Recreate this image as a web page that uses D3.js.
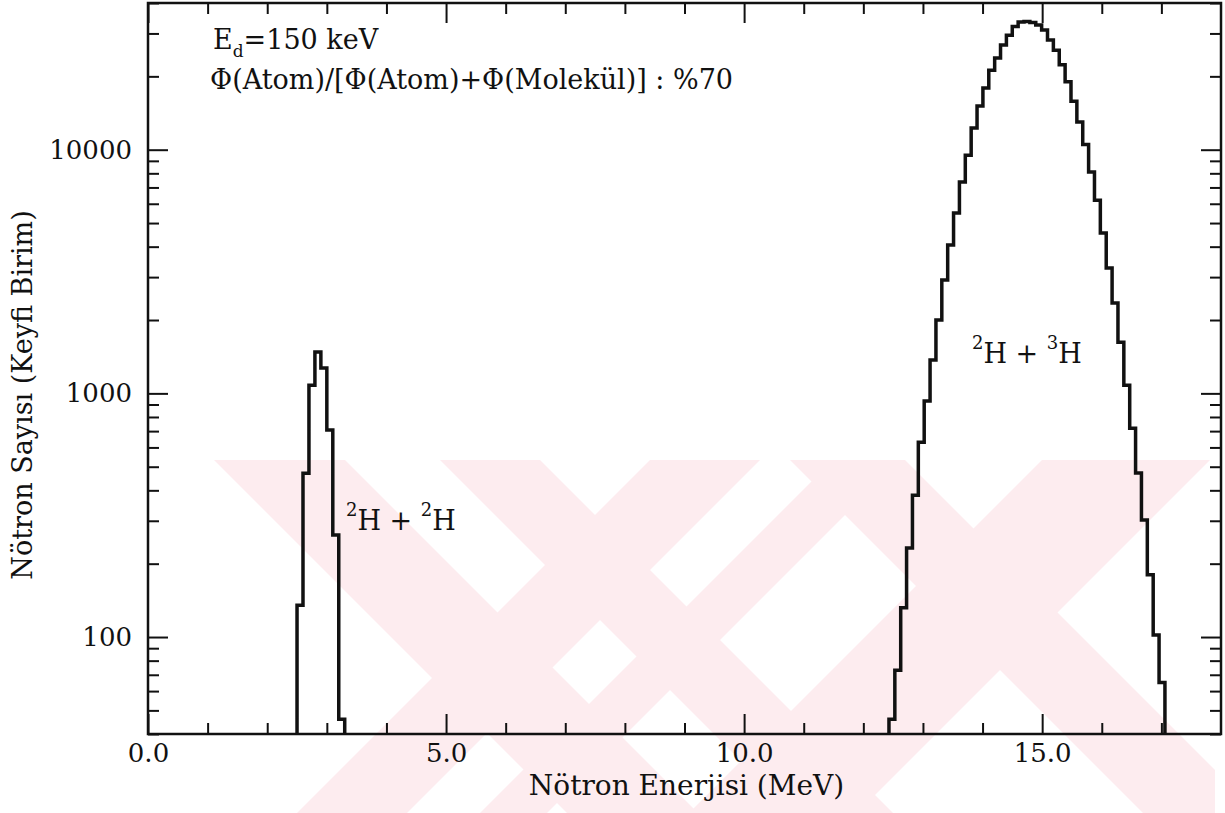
<!DOCTYPE html>
<html>
<head>
<meta charset="utf-8">
<script src="https://cdn.jsdelivr.net/npm/d3@7/dist/d3.min.js"></script>
<style>
	body { margin: 0; background: #fff; }
	svg text { font-family: "DejaVu Serif", serif; fill: #111; }
</style>
</head>
<body>
<div id="chart"></div>
<script>
// ---- data ----
// 2H+3H histogram: counts per bin, first bin edge and bin width in MeV
var dtStart = 12.43;
var dtWidth = 0.0985;
var dtCounts = [46, 73, 132, 232, 382, 630, 930, 1370, 2000, 2920,
	4060, 5500, 7370, 9500, 12270, 15100, 17900, 21200, 23800, 26900,
	29500, 32000, 33400, 33600, 33300, 32500, 31000, 28200, 25600, 22300,
	19000, 15800, 13000, 10500, 8100, 6200, 4550, 3270, 2350, 1620,
	1080, 720, 471, 302, 180, 102, 65];

// 2H+2H histogram
var ddStart = 2.5;
var ddWidth = 0.1;
var ddCounts = [135, 470, 1080, 1480, 1270, 707, 262, 46];

var xMajorTicks = [0, 5, 10, 15];
var xMinorTicks = [1, 2, 3, 4, 6, 7, 8, 9, 11, 12, 13, 14, 16, 17];
var yMajorTicks = [100, 1000, 10000];

var xTitle = "Nötron Enerjisi (MeV)";
var yTitle = "Nötron Sayısı (Keyfi Birim)";
var infoLine2 = "Φ(Atom)/[Φ(Atom)+Φ(Molekül)] : %70";

// ---- layout ----
var width = 1225, height = 813;
var margin = { top: 3, right: 4, bottom: 79, left: 148 };

var svg = d3.select("#chart")
	.append("svg")
	.attr("width", width)
	.attr("height", height);

var x = d3.scaleLinear().domain([0, 18]).range([margin.left, width - margin.right]);
var y = d3.scaleLog().domain([40, 40000]).range([height - margin.bottom, margin.top]).clamp(true);

var x0 = x.range()[0], x1 = x.range()[1];
var yBottom = y.range()[0], yTop = y.range()[1];

// watermark (pale pink diagonal bands behind the plot)
var wmTop = 460, wmBot = height;
var h = wmBot - wmTop;
var bands = [
	{ a: 214, b: 345, dir: 1 },
	{ a: 440, b: 540, dir: 1 },
	{ a: 650, b: 760, dir: -1 },
	{ a: 833, b: 900, dir: -1 },
	{ a: 790, b: 905, dir: 1 },
	{ a: 1042, b: 1210, dir: -1 }
];
svg.append("clipPath").attr("id", "wmclip")
	.append("rect").attr("x", 205).attr("y", wmTop).attr("width", 1010).attr("height", h);
svg.append("g")
	.attr("fill", "#fdecef")
	.attr("clip-path", "url(#wmclip)")
	.selectAll("polygon")
	.data(bands)
	.enter()
	.append("polygon")
	.attr("points", function (d) {
		return [[d.a, wmTop], [d.b, wmTop], [d.b + d.dir * h, wmBot], [d.a + d.dir * h, wmBot]].join(" ");
	});

// minor log ticks (2..9 of each decade)
var yMinorTicks = y.ticks().filter(function (v) { return yMajorTicks.indexOf(v) < 0; });

function styleAxis(g) {
	g.select(".domain").remove();
	g.selectAll(".tick line").attr("stroke", "#111").attr("stroke-width", 2);
	g.selectAll(".tick text").style("font-size", "26px");
}

// bottom
svg.append("g").attr("transform", "translate(0," + yBottom + ")")
	.call(d3.axisBottom(x).tickValues(xMajorTicks).tickSizeInner(-20).tickSizeOuter(0)
		.tickPadding(10).tickFormat(d3.format(".1f")))
	.call(styleAxis);
svg.append("g").attr("transform", "translate(0," + yBottom + ")")
	.call(d3.axisBottom(x).tickValues(xMinorTicks).tickSizeInner(-11).tickSizeOuter(0).tickFormat(""))
	.call(styleAxis);
// top
svg.append("g").attr("transform", "translate(0," + yTop + ")")
	.call(d3.axisTop(x).tickValues(xMajorTicks).tickSizeInner(-20).tickSizeOuter(0).tickFormat(""))
	.call(styleAxis);
svg.append("g").attr("transform", "translate(0," + yTop + ")")
	.call(d3.axisTop(x).tickValues(xMinorTicks).tickSizeInner(-11).tickSizeOuter(0).tickFormat(""))
	.call(styleAxis);
// left
svg.append("g").attr("transform", "translate(" + x0 + ",0)")
	.call(d3.axisLeft(y).tickValues(yMajorTicks).tickSizeInner(-20).tickSizeOuter(0)
		.tickPadding(16).tickFormat(d3.format("d")))
	.call(styleAxis);
svg.append("g").attr("transform", "translate(" + x0 + ",0)")
	.call(d3.axisLeft(y).tickValues(yMinorTicks).tickSizeInner(-11).tickSizeOuter(0).tickFormat(""))
	.call(styleAxis);
// right
svg.append("g").attr("transform", "translate(" + x1 + ",0)")
	.call(d3.axisRight(y).tickValues(yMajorTicks).tickSizeInner(-20).tickSizeOuter(0).tickFormat(""))
	.call(styleAxis);
svg.append("g").attr("transform", "translate(" + x1 + ",0)")
	.call(d3.axisRight(y).tickValues(yMinorTicks).tickSizeInner(-11).tickSizeOuter(0).tickFormat(""))
	.call(styleAxis);

// frame
svg.append("rect")
	.attr("x", x0).attr("y", yTop)
	.attr("width", x1 - x0).attr("height", yBottom - yTop)
	.attr("fill", "none").attr("stroke", "#111").attr("stroke-width", 2.5);

// histograms as step lines
function stepPoints(start, w, counts) {
	var pts = [{ e: start, v: 1 }];
	counts.forEach(function (c, i) { pts.push({ e: start + i * w, v: c }); });
	pts.push({ e: start + counts.length * w, v: 1 });
	return pts;
}
var stepLine = d3.line()
	.x(function (d) { return x(d.e); })
	.y(function (d) { return y(d.v); })
	.curve(d3.curveStepAfter);

svg.selectAll(".hist")
	.data([stepPoints(ddStart, ddWidth, ddCounts), stepPoints(dtStart, dtWidth, dtCounts)])
	.enter()
	.append("path")
	.attr("class", "hist")
	.attr("d", stepLine)
	.attr("fill", "none")
	.attr("stroke", "#111")
	.attr("stroke-width", 3.5)
	.attr("stroke-linejoin", "miter");

// axis titles
svg.append("text")
	.attr("x", (x0 + x1) / 2 + 2).attr("y", 795)
	.attr("text-anchor", "middle")
	.style("font-size", "28px")
	.text(xTitle);
svg.append("text")
	.attr("transform", "translate(32,395) rotate(-90)")
	.attr("text-anchor", "middle")
	.style("font-size", "27px")
	.text(yTitle);

// info text
var info = svg.append("text").attr("x", 213).attr("y", 49).style("font-size", "27px");
info.append("tspan").text("E");
info.append("tspan").attr("dy", 8).style("font-size", "17px").text("d");
info.append("tspan").attr("dy", -8).text("=150 keV");
svg.append("text").attr("x", 210).attr("y", 89).style("font-size", "27px").text(infoLine2);

// reaction labels with superscript mass numbers
function reaction(xp, yp, a, b) {
	var t = svg.append("text").attr("x", xp).attr("y", yp).style("font-size", "27px");
	t.append("tspan").attr("dy", -14).style("font-size", "18px").text(a);
	t.append("tspan").attr("dy", 14).text("H + ");
	t.append("tspan").attr("dy", -14).style("font-size", "18px").text(b);
	t.append("tspan").attr("dy", 14).text("H");
}
reaction(346, 530, "2", "2");
reaction(972, 363, "2", "3");
</script>
</body>
</html>
